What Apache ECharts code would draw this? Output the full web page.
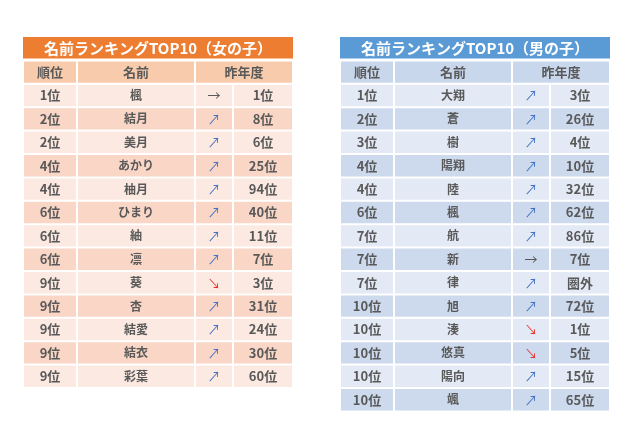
<!DOCTYPE html>
<html><head><meta charset="utf-8">
<script src="https://cdn.jsdelivr.net/npm/echarts@6/dist/echarts.min.js"></script>
<style>html,body{margin:0;background:#fff}#c{width:640px;height:426px}</style>
</head><body><div id="c"></div>
<script>
var girlTitle = '名前ランキングTOP10（女の子）';
var boyTitle = '名前ランキングTOP10（男の子）';
var headers = ['順位', '名前', '昨年度'];
var girlRanks = ['1位','2位','2位','4位','4位','6位','6位','6位','9位','9位','9位','9位','9位'];
var girlNames = ['楓','結月','美月','あかり','柚月','ひまり','紬','凛','葵','杏','結愛','結衣','彩葉'];
var girlTrend = ['→','↗','↗','↗','↗','↗','↗','↗','↘','↗','↗','↗','↗'];
var girlPrev = ['1位','8位','6位','25位','94位','40位','11位','7位','3位','31位','24位','30位','60位'];
var boyRanks = ['1位','2位','3位','4位','4位','6位','7位','7位','7位','10位','10位','10位','10位','10位'];
var boyNames = ['大翔','蒼','樹','陽翔','陸','楓','航','新','律','旭','湊','悠真','陽向','颯'];
var boyTrend = ['↗','↗','↗','↗','↗','↗','↗','→','↗','↗','↘','↘','↗','↗'];
var boyPrev = ['3位','26位','4位','10位','32位','62位','86位','7位','圏外','72位','1位','5位','15位','65位'];

// column edges in px within each table (width 270)
var cols = [0, 54, 172, 210, 270];

function buildCells(title, ranks, names, trend, prev, pal) {
	var cells = [];
	cells.push([0, 270, 0, title, pal.title, '#fff', 15]);
	cells.push([cols[0], cols[1], 1, headers[0], pal.head, '#595959', 13]);
	cells.push([cols[1], cols[2], 1, headers[1], pal.head, '#595959', 13]);
	cells.push([cols[2], cols[4], 1, headers[2], pal.head, '#595959', 13]);
	for (var i = 0; i < ranks.length; i++) {
		var bg = i % 2 == 0 ? pal.light : pal.dark;
		var r = i + 2;
		cells.push([cols[0], cols[1], r, ranks[i], bg, '#595959', 13]);
		cells.push([cols[1], cols[2], r, names[i], bg, '#595959', 12]);
		var ac = trend[i] == '↘' ? '#E8312F' : (trend[i] == '→' ? '#595959' : '#4472C4');
		cells.push([cols[2], cols[3], r, trend[i], bg, ac, 13]);
		cells.push([cols[3], cols[4], r, prev[i], bg, '#595959', 13]);
	}
	return cells;
}

var orange = { title: '#ED7D31', head: '#F8CBAD', light: '#FCE9E1', dark: '#F9D6C6' };
var blue = { title: '#5B9BD5', head: '#C9D7EC', light: '#E3EAF5', dark: '#CDDAEE' };

var girlCells = buildCells(girlTitle, girlRanks, girlNames, girlTrend, girlPrev, orange);
var boyCells = buildCells(boyTitle, boyRanks, boyNames, boyTrend, boyPrev, blue);
var allCells = [girlCells, boyCells];

function renderCell(params, api) {
	var d = allCells[params.seriesIndex][params.dataIndex];
	var x0 = d[0], x1 = d[1], row = d[2];
	var p0 = api.coord([x0, row]);
	var p1 = api.coord([x1, row]);
	var h = api.size([0, 1])[1];
	var isTitle = row == 0;
	var gap = isTitle ? 0 : 1;
	var isArrow = d[3] == '↗' || d[3] == '↘' || d[3] == '→';
	return {
		type: 'group',
		children: [{
			type: 'rect',
			shape: { x: p0[0] + gap, y: p0[1] - h / 2 + (isTitle ? 0 : 1), width: p1[0] - p0[0] - gap * 2, height: h - 2 },
			style: { fill: d[4] }
		}, {
			type: 'text',
			style: {
				x: (p0[0] + p1[0]) / 2, y: p0[1],
				text: d[3], fill: d[5], align: 'center', verticalAlign: 'middle',
				font: (isArrow ? 'normal ' : 'bold ') + d[6] + 'px "Noto Sans CJK JP"'
			}
		}]
	};
}

function simple(cells) { return cells.map(function (c) { return [c[0], c[1], c[2]]; }); }
function rowCats(n) { var a = []; for (var i = 0; i < n; i++) a.push(i); return a; }

var chart = echarts.init(document.getElementById('c'));
chart.setOption({
	animation: false,
	grid: [
		{ left: 23, top: 37, width: 270, height: 23.4 * 15 },
		{ left: 340, top: 37, width: 270, height: 23.4 * 16 }
	],
	xAxis: [
		{ gridIndex: 0, type: 'value', min: 0, max: 270, show: false },
		{ gridIndex: 1, type: 'value', min: 0, max: 270, show: false }
	],
	yAxis: [
		{ gridIndex: 0, type: 'category', data: rowCats(15), inverse: true, show: false },
		{ gridIndex: 1, type: 'category', data: rowCats(16), inverse: true, show: false }
	],
	series: [
		{ type: 'custom', xAxisIndex: 0, yAxisIndex: 0, renderItem: renderCell, data: simple(girlCells), encode: { x: [0, 1], y: 2 } },
		{ type: 'custom', xAxisIndex: 1, yAxisIndex: 1, renderItem: renderCell, data: simple(boyCells), encode: { x: [0, 1], y: 2 } }
	]
});
</script>
</body></html>
